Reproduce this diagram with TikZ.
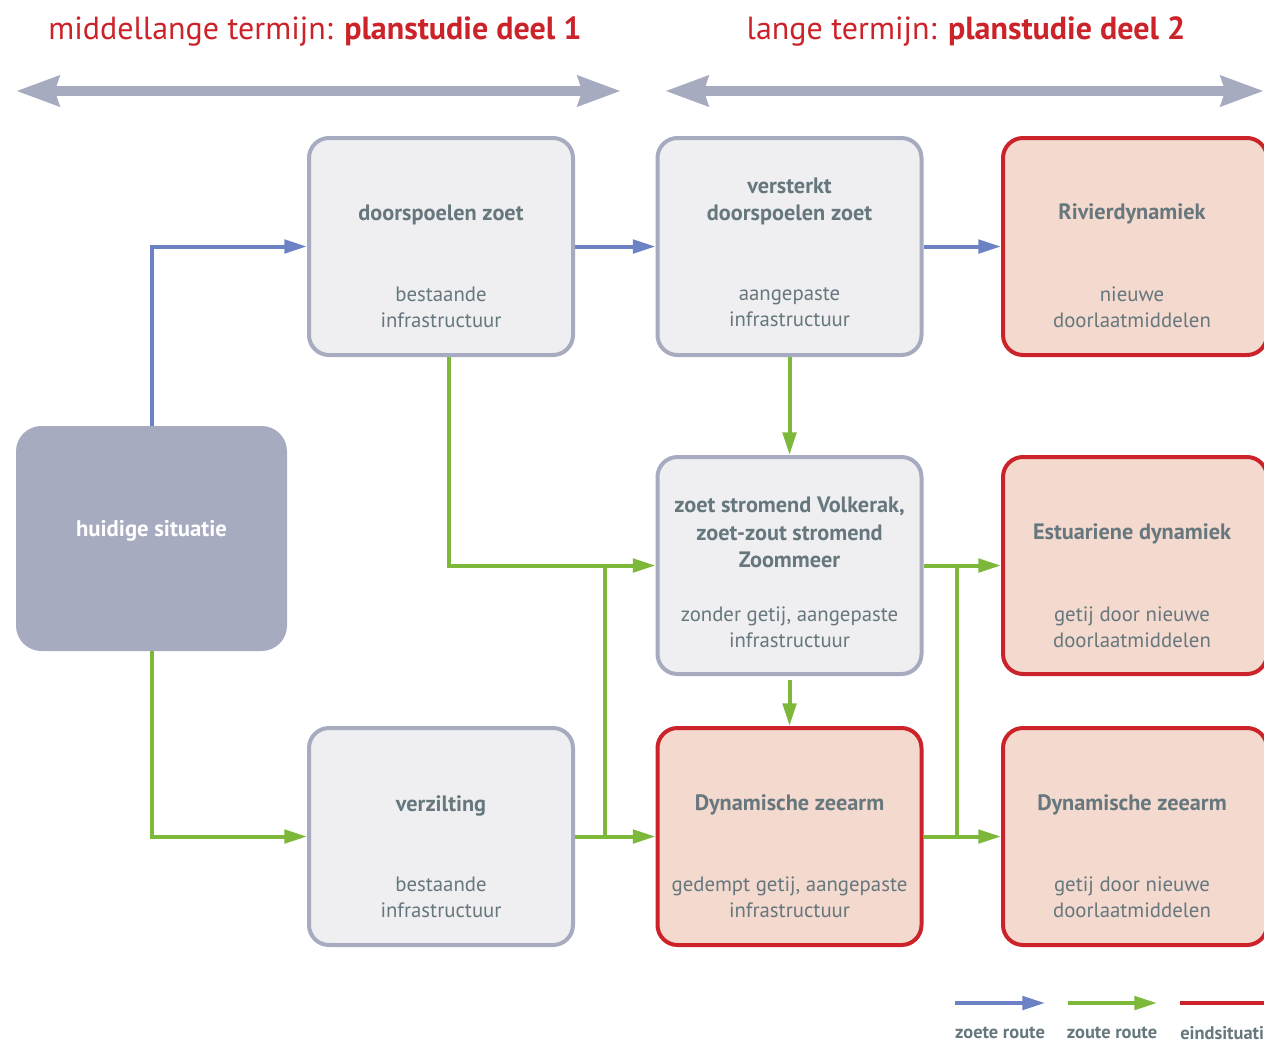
\documentclass[tikz,border=0pt]{standalone}
\usepackage{fontspec}
\setmainfont{PT Sans}
\usetikzlibrary{arrows.meta}
\definecolor{boxgray}{HTML}{A7ABBF}
\definecolor{boxfill}{HTML}{EFEFF1}
\definecolor{redc}{HTML}{CC2229}
\definecolor{redfill}{HTML}{F3D9CE}
\definecolor{bluec}{HTML}{6C82C4}
\definecolor{greenc}{HTML}{7DB83A}
\definecolor{txt}{HTML}{66777D}
\tikzset{
  graybox/.style={draw=boxgray, fill=boxfill, line width=3pt, rounded corners=15pt,
    minimum width=198pt, minimum height=162.75pt, inner sep=0pt},
  redbox/.style={draw=redc, fill=redfill, line width=3pt, rounded corners=15pt,
    minimum width=198pt, minimum height=162.75pt, inner sep=0pt},
  startbox/.style={fill=boxgray, rounded corners=19pt,
    minimum width=203.25pt, minimum height=168.75pt, inner sep=0pt},
  ttl/.style={text=txt, font=\fontsize{16.7}{20.5}\selectfont\bfseries, align=center, inner sep=0pt},
  sub/.style={text=txt, font=\fontsize{15.6}{19.5}\selectfont, align=center, inner sep=0pt},
  head/.style={text=redc, font=\fontsize{24}{28}\selectfont, inner sep=0pt},
  bluearrow/.style={draw=bluec, line width=3pt, -{Triangle[length=17pt,width=10pt]}},
  greenarrow/.style={draw=greenc, line width=3pt, -{Triangle[length=17pt,width=10pt]}},
  greenline/.style={draw=greenc, line width=3pt},
  spanarrow/.style={draw=boxgray, line width=7.5pt, {Stealth[length=32pt,width=22pt,inset=3pt]}-{Stealth[length=32pt,width=22pt,inset=3pt]}},
  legend/.style={text=txt, font=\fontsize{13.8}{16}\selectfont\bfseries, inner sep=0pt},
}
\begin{document}
\begin{tikzpicture}[x=0.75pt,y=-0.75pt]
\useasboundingbox (0,0) rectangle (1264,1042);
\clip (0,0) rectangle (1264,1042);
% headings
\node[head, anchor=base] (h1) at (315,39) {middellange termijn: \textbf{planstudie deel 1}};
\node[head, anchor=base] (h2) at (966,39) {lange termijn: \textbf{planstudie deel 2}};
\coordinate (a1l) at (16,91); \coordinate (a1r) at (621,91);
\coordinate (a2l) at (665,91); \coordinate (a2r) at (1264,91);
\draw[spanarrow] (a1l) -- (a1r);
\draw[spanarrow] (a2l) -- (a2r);
% boxes
\node[startbox] (hs) at (151.5,538.5) {};
\node[text=white, font=\fontsize{17}{20}\selectfont\bfseries] (hst) at (151.5,531) {huidige situatie};
\node[graybox] (dz) at (441,246.5) {};
\node[graybox] (vd) at (789.5,246.5) {};
\node[redbox] (rd) at (1135,246.5) {};
\node[graybox] (zs) at (789.5,565.5) {};
\node[redbox] (ed) at (1135,565.5) {};
\node[graybox] (vz) at (441,836.5) {};
\node[redbox] (dm) at (789.5,836.5) {};
\node[redbox] (dr) at (1135,836.5) {};
% texts
\node[ttl] (dzt) at (441,215) {doorspoelen zoet};
\node[sub] (dzs) at (441,307.5) {bestaande\\infrastructuur};
\node[ttl] (vdt) at (789.5,201.5) {versterkt\\doorspoelen zoet};
\node[sub] (vds) at (789.5,307.5) {aangepaste\\infrastructuur};
\node[ttl] (rdt) at (1132,214) {Rivierdynamiek};
\node[sub] (rds) at (1132,307) {nieuwe\\doorlaatmiddelen};
\node[ttl] (zst) at (789.5,532.5) {zoet stromend Volkerak,\\zoet-zout stromend\\Zoommeer};
\node[sub] (zss) at (789.5,627) {zonder getij, aangepaste\\infrastructuur};
\node[ttl] (edt) at (1132,534) {Estuariene dynamiek};
\node[sub] (eds) at (1132,627) {getij door nieuwe\\doorlaatmiddelen};
\node[ttl] (vzt) at (441,806) {verzilting};
\node[sub] (vzs) at (441,897.5) {bestaande\\infrastructuur};
\node[ttl] (dmt) at (789.5,805) {Dynamische zeearm};
\node[sub] (dms) at (789.5,897) {gedempt getij, aangepaste\\infrastructuur};
\node[ttl] (drt) at (1132,805) {Dynamische zeearm};
\node[sub] (drs) at (1132,897) {getij door nieuwe\\doorlaatmiddelen};
% blue connectors
\draw[bluearrow] (hs.north) |- (dz.west);
\draw[bluearrow] (dz.east) -- (vd.west);
\draw[bluearrow] (vd.east) -- (rd.west);
% green connectors
\draw[greenarrow] (hs.south) |- (vz.west);
\draw[greenarrow] ([xshift=6pt]dz.south) |- (zs.west);
\draw[greenarrow] (vd.south) -- (zs.north);
\draw[greenarrow] ([yshift=-3pt]zs.south) -- (dm.north);
\coordinate (jl) at (605,566);
\coordinate (jr) at (957,566);
\draw[greenline] (vz.east) -- (vz.east -| jl);
\draw[greenline] (jl) -- (jl |- dm.west);
\draw[greenarrow] (jl |- dm.west) -- (dm.west);
\draw[greenarrow] (zs.east) -- (ed.west);
\draw[greenline] (jr) -- (jr |- dm.east);
\draw[greenarrow] (dm.east) -- (dr.west);
% legend
\coordinate (lb1) at (955,1003); \coordinate (lb2) at (1045,1003);
\coordinate (lg1) at (1068,1003); \coordinate (lg2) at (1157,1003);
\coordinate (lr1) at (1180,1003); \coordinate (lr2) at (1270,1003);
\draw[bluearrow] (lb1) -- (lb2);
\draw[greenarrow] (lg1) -- (lg2);
\draw[draw=redc, line width=3pt] (lr1) -- (lr2);
\node[legend] (l1) at (1000,1033) {zoete route};
\node[legend] (l2) at (1112,1033) {zoute route};
\node[legend, anchor=west] (l3) at (1180,1033) {eindsituatie};
\end{tikzpicture}
\end{document}
